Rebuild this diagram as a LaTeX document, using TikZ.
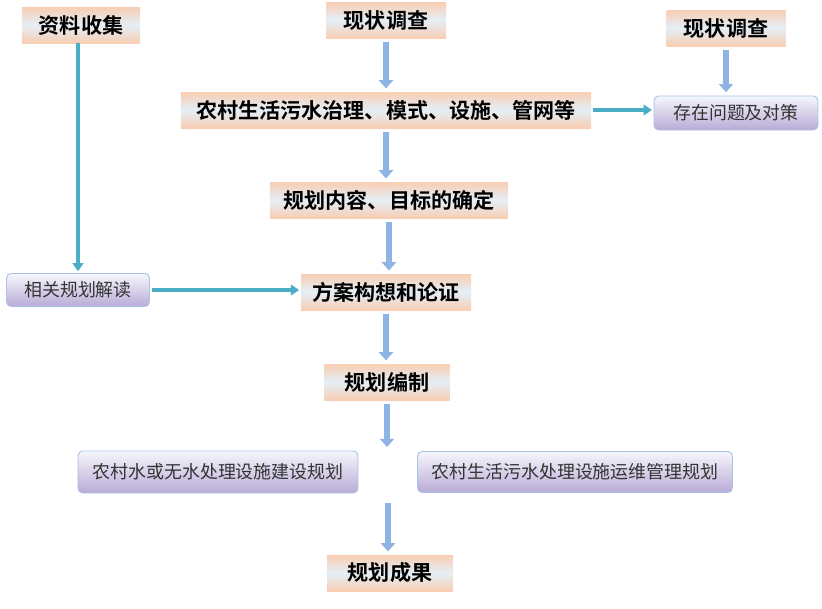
\documentclass[tikz,border=0pt]{standalone}
\usepackage{fontspec}
\setmainfont{Noto Sans CJK SC}
\newfontfamily\cjkbold{Noto Sans CJK SC Bold}
\usetikzlibrary{arrows.meta}
\definecolor{peach}{HTML}{F9CDB3}
\definecolor{paleblue}{HTML}{E4EFF6}
\definecolor{lavtop}{HTML}{F6F6FC}
\definecolor{lavbot}{HTML}{B9ABD6}
\definecolor{lavedge}{HTML}{A9C3E6}
\definecolor{downblue}{HTML}{8DB4E3}
\definecolor{teal}{HTML}{4BACC6}
\begin{document}
\begin{tikzpicture}[x=0.03cm,y=-0.03cm]
  \tikzstyle{title}=[top color=peach, bottom color=peach, middle color=paleblue,
    minimum height=1.08cm, inner sep=0pt, font=\cjkbold\fontsize{18}{20}\selectfont]
  \tikzstyle{item}=[draw=lavedge, line width=0.8pt, rounded corners=4pt, top color=lavtop,
    bottom color=lavbot, inner sep=0pt, text=black!80, font=\fontsize{15.3}{17}\selectfont]
  \tikzstyle{down}=[draw=downblue, line width=5.5pt, -{Triangle[width=12pt,length=7pt]}]
  \tikzstyle{side}=[draw=teal, line width=2.6pt, -{Triangle[width=9pt,length=7pt]}]

  \useasboundingbox (0,0) rectangle (822,608);

  \node[title, minimum width=3.54cm] (collect) at (81,25) {资料收集};
  \node[title, minimum width=3.6cm] (survey) at (386,20) {现状调查};
  \node[title, minimum width=3.57cm] (survey2) at (726,28) {现状调查};
  \node[title, minimum width=12.3cm] (status) at (386,110) {农村生活污水治理、模式、设施、管网等};
  \node[item, minimum width=4.92cm, minimum height=1.02cm] (issue) at (736,113) {存在问题及对策};
  \node[title, minimum width=7.14cm] (goal) at (389,200) {规划内容、目标的确定};
  \node[item, minimum width=4.29cm, minimum height=0.99cm] (review) at (78,290) {相关规划解读};
  \node[title, minimum width=5.1cm] (scheme) at (386,292) {方案构想和论证};
  \node[title, minimum width=3.75cm] (draft) at (387,382) {规划编制};
  \node[item, minimum width=8.4cm, minimum height=1.26cm] (build) at (218,472) {农村水或无水处理设施建设规划};
  \node[item, minimum width=9.45cm, minimum height=1.23cm] (operate) at (575,472) {农村生活污水处理设施运维管理规划};
  \node[title, minimum width=3.78cm] (result) at (390,573) {规划成果};

  \coordinate (midtop) at (388,447);
  \coordinate (midbot) at (388,503);

  \draw[down] ([yshift=-0.12cm]survey.south) -- ([yshift=0.1cm]survey.south |- status.north);
  \draw[down] ([yshift=-0.12cm]status.south) -- ([yshift=0.1cm]status.south |- goal.north);
  \draw[down] ([yshift=-0.12cm]goal.south) -- ([yshift=0.1cm]goal.south |- scheme.north);
  \draw[down] ([yshift=-0.12cm]scheme.south) -- ([yshift=0.1cm]scheme.south |- draft.north);
  \draw[down] ([yshift=-0.12cm]draft.south) -- (draft.south |- midtop);
  \draw[down] (midbot) -- ([yshift=0.1cm]midbot |- result.north);
  \draw[down] ([yshift=-0.12cm]survey2.south) -- ([yshift=0.1cm]survey2.south |- issue.north);

  \draw[side] (collect.south -| review.north) -- ([yshift=0.05cm]review.north);
  \draw[side] ([xshift=0.05cm]status.east) -- ([xshift=-0.05cm]status.east -| issue.west);
  \draw[side] ([xshift=0.05cm]review.east) -- ([xshift=-0.05cm]review.east -| scheme.west);
\end{tikzpicture}
\end{document}
